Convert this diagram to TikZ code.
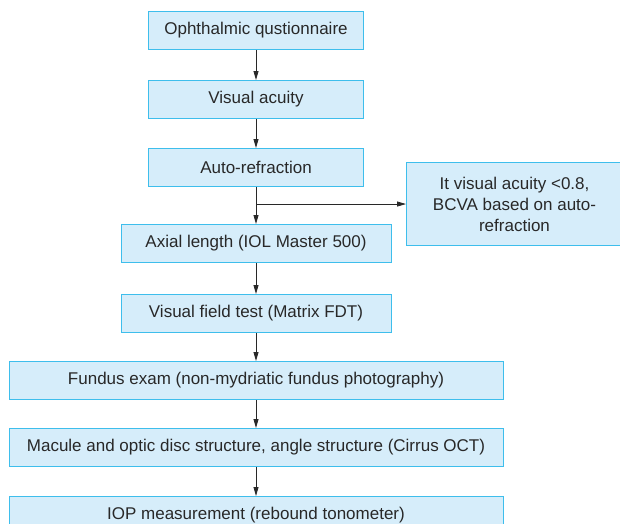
\documentclass[tikz,border=0pt]{standalone}
\usepackage{fontspec}
\setmainfont{Liberation Sans}
\usetikzlibrary{positioning,arrows.meta,calc}
\definecolor{boxfill}{RGB}{214,237,250}
\definecolor{boxline}{RGB}{62,190,236}
\definecolor{inkgray}{RGB}{40,40,40}
\tikzset{
	stage/.style={draw=boxline, fill=boxfill, line width=1pt, text=inkgray,
		minimum height=38pt, inner sep=0pt, align=center,
		font=\fontsize{17}{21}\selectfont},
	flow/.style={draw=inkgray, line width=0.8pt, -{Triangle[length=9pt,width=5pt]}},
}

\begin{document}
\begin{tikzpicture}[x=1pt,y=1pt]
	\useasboundingbox (0,0) rectangle (620,-523);

	\node[stage, minimum width=215pt] (quest) at (256,-30.5) {Ophthalmic qustionnaire};
	\node[stage, minimum width=215pt, below=30pt of quest] (acuity) {Visual acuity};
	\node[stage, minimum width=215pt, below=29pt of acuity] (refrac) {Auto-refraction};
	\node[stage, minimum width=270pt, below=37pt of refrac] (axial) {Axial length (IOL Master 500)};
	\node[stage, minimum width=270pt, below=31pt of axial] (field) {Visual field test (Matrix FDT)};
	\node[stage, minimum width=494pt, below=28pt of field] (fundus) {Fundus exam (non-mydriatic fundus photography)};
	\node[stage, minimum width=494pt, below=28pt of fundus] (oct) {Macule and optic disc structure, angle structure (Cirrus OCT)};
	\node[stage, minimum width=494pt, below=29pt of oct] (iop) {IOP measurement (rebound tonometer)};

	\coordinate (branch) at ($(refrac.south)!0.46!(axial.north)$);
	\node[stage, minimum width=216pt, minimum height=83pt, right=150pt of branch] (bcva) {It visual acuity <0.8,\\BCVA based on auto-\\refraction};

	\draw[flow] (quest) -- (acuity);
	\draw[flow] (acuity) -- (refrac);
	\draw[flow] (refrac) -- (axial);
	\draw[flow] (branch) -- (bcva);
	\draw[flow] (axial) -- (field);
	\draw[flow] (field) -- (fundus);
	\draw[flow] (fundus) -- (oct);
	\draw[flow] (oct) -- (iop);
\end{tikzpicture}
\end{document}
